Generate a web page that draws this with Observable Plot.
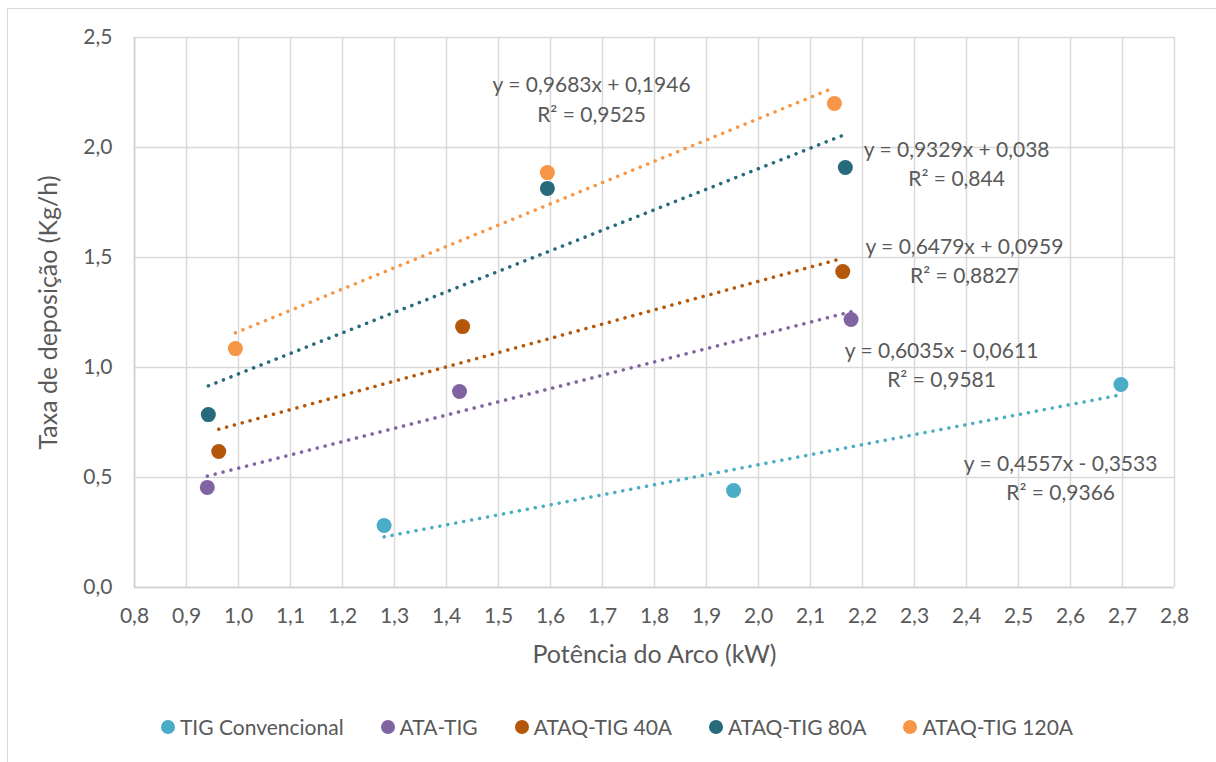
<!DOCTYPE html>
<html>
<head>
<meta charset="utf-8">
<script src="https://cdn.jsdelivr.net/npm/d3@7"></script>
<script src="https://cdn.jsdelivr.net/npm/@observablehq/plot@0.6"></script>
<style>
  html, body { margin: 0; padding: 0; background: #fff; }
  body { width: 1216px; height: 762px; position: relative; overflow: hidden; font-family: Lato, "Open Sans", sans-serif; }
  #border { position: absolute; left: 7px; top: 8px; width: 1300px; height: 800px;
            border-left: 1.5px solid #d9d9d9; border-top: 1.5px solid #d9d9d9; box-sizing: border-box; }
  #chart { position: absolute; left: 0; top: 0; }
  #legend { position: absolute; left: 0; top: 714px; width: 1234px; display: flex; justify-content: center;
            gap: 37px; font-size: 21px; color: #595959; }
  #legend .item { display: flex; align-items: center; }
  #legend .dot { width: 14px; height: 14px; border-radius: 50%; margin-right: 5px; }
</style>
</head>
<body>
<div id="border"></div>
<div id="chart"></div>
<div id="legend"></div>
<script>
// Series names and colours
const series = ["TIG Convencional", "ATA-TIG", "ATAQ-TIG 40A", "ATAQ-TIG 80A", "ATAQ-TIG 120A"];
const colors = ["#4BACC6", "#8064A2", "#B5570B", "#266A7C", "#F79646"];

// Arc power (kW) and deposition rate (kg/h) per series
const power = [
  [1.280, 1.952, 2.697],
  [0.940, 1.425, 2.178],
  [0.962, 1.431, 2.162],
  [0.942, 1.594, 2.167],
  [0.994, 1.594, 2.146]
];
const rate = [
  [0.282, 0.441, 0.923],
  [0.455, 0.891, 1.218],
  [0.618, 1.186, 1.436],
  [0.786, 1.814, 1.909],
  [1.086, 1.886, 2.200]
];

// Linear trendline coefficients and R²
const slope = [0.4557, 0.6035, 0.6479, 0.9329, 0.9683];
const intercept = [-0.3533, -0.0611, 0.0959, 0.038, 0.1946];
const r2 = [0.9366, 0.9581, 0.8827, 0.844, 0.9525];

// Where each equation label sits (data units)
const labelX = [2.581, 2.352, 2.396, 2.381, 1.679];
const labelY = [0.505, 1.020, 1.493, 1.934, 2.227];

// Axis ticks
const xTicks = [0.8, 0.9, 1.0, 1.1, 1.2, 1.3, 1.4, 1.5, 1.6, 1.7, 1.8, 1.9, 2.0, 2.1, 2.2, 2.3, 2.4, 2.5, 2.6, 2.7, 2.8];
const yTicks = [0.0, 0.5, 1.0, 1.5, 2.0, 2.5];

const xLabel = "Potência do Arco (kW)";
const yLabel = "Taxa de deposição (Kg/h)";

const comma = v => String(v).replace(".", ",");
const fmt1 = d => d.toFixed(1).replace(".", ",");

const points = [];
const trends = [];
const labels = [];
series.forEach((name, i) => {
  power[i].forEach((p, j) => points.push({series: name, idx: i, x: p, y: rate[i][j]}));
  const x0 = d3.min(power[i]), x1 = d3.max(power[i]);
  for (const x of [x0, x1]) trends.push({series: name, idx: i, x, y: slope[i] * x + intercept[i]});
  const b = intercept[i];
  const eq = `y = ${comma(slope[i])}x ${b < 0 ? "-" : "+"} ${comma(Math.abs(b))}`;
  labels.push({x: labelX[i], y: labelY[i], text: `${eq}\nR² = ${comma(r2[i])}`});
});
// drawing order: later series underneath
points.sort((a, b) => b.idx - a.idx);

const textColor = "#595959";
const gridColor = "#d9d9d9";

const chart = Plot.plot({
  width: 1216,
  height: 700,
  marginLeft: 134,
  marginRight: 42,
  marginTop: 37,
  marginBottom: 113,
  style: {fontFamily: "Lato, 'Open Sans', sans-serif", fontSize: "20px", color: textColor, background: "transparent"},
  x: {domain: [0.8, 2.8]},
  y: {domain: [0, 2.5]},
  color: {domain: series, range: colors},
  marks: [
    Plot.gridX(xTicks, {stroke: gridColor, strokeOpacity: 1, strokeWidth: 1.5}),
    Plot.gridY(yTicks, {stroke: gridColor, strokeOpacity: 1, strokeWidth: 1.5}),
    Plot.ruleY([0], {stroke: "#cfcfcf", strokeWidth: 1.5}),
    Plot.ruleX([0.8], {stroke: "#cfcfcf", strokeWidth: 1.5}),
    Plot.axisX({ticks: xTicks, tickFormat: fmt1, tickSize: 0, tickPadding: 21, fontSize: 21, fill: textColor, label: null}),
    Plot.axisY({ticks: yTicks, tickFormat: fmt1, tickSize: 0, tickPadding: 22, fontSize: 21, fill: textColor, label: null}),
    Plot.line(trends, {x: "x", y: "y", z: "series", stroke: "series", strokeWidth: 3.5,
      strokeDasharray: "0.1 8", strokeLinecap: "round"}),
    Plot.dot(points, {x: "x", y: "y", fill: "series", r: 7.5}),
    Plot.text(labels, {x: "x", y: "y", text: "text", fontSize: 21, fill: textColor, lineHeight: 1.4, textAnchor: "middle"}),
    Plot.text([xLabel], {frameAnchor: "bottom", dy: 75, fontSize: 25, fill: textColor}),
    Plot.text([yLabel], {frameAnchor: "left", dx: -86, rotate: -90, textAnchor: "middle", fontSize: 25, fill: textColor})
  ]
});
document.getElementById("chart").appendChild(chart);

// Legend below the plot
const legend = d3.select("#legend");
series.forEach((name, i) => {
  const item = legend.append("div").attr("class", "item");
  item.append("span").attr("class", "dot").style("background", colors[i]);
  item.append("span").text(name);
});
</script>
</body>
</html>
